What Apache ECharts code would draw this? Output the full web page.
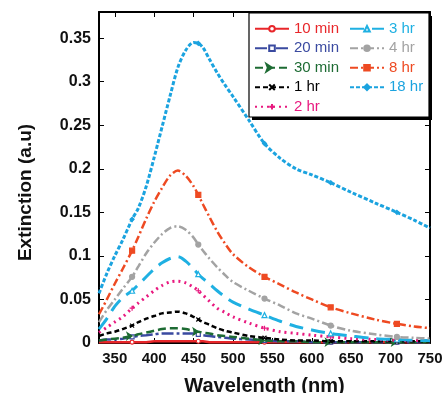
<!DOCTYPE html>
<html><head><meta charset="utf-8">
<script src="https://cdn.jsdelivr.net/npm/echarts@6/dist/echarts.min.js"></script>
<style>html,body{margin:0;padding:0;background:#fff}#c{width:447px;height:393px}</style>
</head><body><div id="c"></div>
<script>
const wavelengths = [330, 340, 350, 360, 372, 380, 390, 400, 410, 420, 430, 440, 450, 456, 462, 470, 480, 490, 500, 520, 540, 560, 580, 600, 624, 650, 680, 708, 730, 750];
const markerWavelengths = [372, 456, 540, 624, 708];
const xTicks = [350, 400, 450, 500, 550, 600, 650, 700, 750];
const yTicks = [0, 0.05, 0.1, 0.15, 0.2, 0.25, 0.3, 0.35];

const t10min = [0.001,0.001,0.001,0.001,0.001,0.001,0.001,0.002,0.002,0.002,0.002,0.002,0.002,0.002,0.002,0.001,0.001,0.001,0.001,0.001,0.001,0.001,0.001,0.001,0.001,0.001,0.001,0.001,0.001,0.001];
const t20min = [0.003,0.004,0.004,0.005,0.007,0.008,0.009,0.010,0.011,0.011,0.011,0.011,0.011,0.010,0.009,0.008,0.007,0.006,0.005,0.004,0.003,0.002,0.002,0.001,0.001,0.001,0.001,0.001,0.001,0.001];
const t30min = [0.003,0.004,0.005,0.006,0.008,0.010,0.012,0.014,0.016,0.017,0.017,0.016,0.014,0.013,0.012,0.011,0.009,0.008,0.007,0.005,0.003,0.002,0.002,0.001,0.001,0.001,0.001,0.001,0.001,0.001];
const t1hr = [0.008,0.011,0.013,0.016,0.020,0.024,0.028,0.031,0.034,0.035,0.036,0.034,0.030,0.027,0.024,0.021,0.017,0.014,0.012,0.008,0.006,0.004,0.003,0.003,0.002,0.002,0.002,0.002,0.002,0.002];
const t2hr = [0.012,0.018,0.024,0.030,0.040,0.046,0.053,0.060,0.066,0.070,0.071,0.069,0.064,0.060,0.055,0.048,0.040,0.035,0.030,0.023,0.017,0.013,0.011,0.009,0.007,0.005,0.004,0.003,0.003,0.003];
const t3hr = [0.016,0.028,0.042,0.052,0.060,0.067,0.076,0.085,0.092,0.097,0.099,0.094,0.085,0.079,0.074,0.068,0.060,0.053,0.047,0.039,0.032,0.025,0.019,0.015,0.011,0.008,0.005,0.004,0.003,0.003];
const t4hr = [0.024,0.038,0.050,0.062,0.076,0.088,0.103,0.115,0.125,0.132,0.134,0.130,0.121,0.113,0.106,0.097,0.087,0.078,0.070,0.060,0.051,0.043,0.034,0.028,0.020,0.014,0.010,0.007,0.006,0.005];
const t8hr = [0.033,0.050,0.068,0.085,0.106,0.122,0.143,0.162,0.178,0.192,0.198,0.192,0.180,0.170,0.159,0.145,0.128,0.114,0.102,0.087,0.076,0.067,0.058,0.050,0.041,0.034,0.027,0.022,0.019,0.017];
const t18hr = [0.057,0.080,0.100,0.118,0.142,0.155,0.180,0.213,0.248,0.283,0.316,0.336,0.345,0.344,0.339,0.326,0.310,0.296,0.283,0.256,0.229,0.212,0.200,0.193,0.184,0.173,0.161,0.150,0.141,0.132];

const seriesNames = ['10 min','20 min','30 min','1 hr','2 hr','3 hr','4 hr','8 hr','18 hr'];
const seriesValues = [t10min,t20min,t30min,t1hr,t2hr,t3hr,t4hr,t8hr,t18hr];

const styles = {
  '10 min': {color:'#e8262a', type:'solid', width:2.5, symbol:'circle', size:4, fill:'#fff'},
  '20 min': {color:'#3a4aa0', type:[12,3,3,3], width:2.5, symbol:'rect', size:4, fill:'#fff'},
  '30 min': {color:'#1d6b33', type:[8,4], width:2.5, symbol:'arrow', size:5, fill:null, rotate:-90},
  '1 hr': {color:'#000000', type:[5,3], width:2.5, symbol:'path://M0,0L10,10M10,0L0,10', size:4, fill:null},
  '2 hr': {color:'#e8197f', type:[2,4], width:3, symbol:'path://M5,0L5,10M0,5L10,5', size:5, fill:null},
  '3 hr': {color:'#1fb0e2', type:[14,8], width:3, symbol:'triangle', size:5, fill:'#fff'},
  '4 hr': {color:'#a3a3a3', type:[8,3,2,3], width:2.5, symbol:'circle', size:5, fill:null},
  '8 hr': {color:'#ee4a22', type:[8,3,2,3], width:2.5, symbol:'rect', size:5, fill:null},
  '18 hr': {color:'#1ba3df', type:[4,2], width:3, symbol:'diamond', size:4, fill:null}
};

const FONT = 'Liberation Sans';

const series = seriesNames.map((name, si) => {
  const st = styles[name];
  return {
    name: name,
    type: 'line',
    smooth: 0.3,
    showSymbol: true,
    symbol: st.symbol,
    symbolSize: st.size,
    symbolRotate: st.rotate || 0,
    lineStyle: {color: st.color, width: st.width, type: st.type},
    itemStyle: {color: st.fill || st.color, borderColor: st.color, borderWidth: 1.2},
    emphasis: {disabled: true},
    z: 2 + si * 0.01,
    data: wavelengths.map((w, i) => {
      const item = {value: [w, seriesValues[si][i]]};
      if (markerWavelengths.indexOf(w) < 0) item.symbol = 'none';
      return item;
    })
  };
});

const legendText = n => ({name: n, textStyle: {color: styles[n].color}});

const chart = echarts.init(document.getElementById('c'), null, {renderer: 'canvas'});
chart.setOption({
  animation: false,
  backgroundColor: '#fff',
  textStyle: {fontFamily: FONT},
  grid: {left: 99, right: 17, top: 12, bottom: 50, containLabel: false, outerBoundsMode: 'none'},
  xAxis: [{
    type: 'value', min: 330, max: 750, position: 'bottom',
    name: 'Wavelength (nm)', nameLocation: 'middle', nameGap: 33,
    nameTextStyle: {fontFamily: FONT, fontWeight: 'bold', fontSize: 20, color: '#111'},
    axisLine: {show: true, onZero: false, lineStyle: {color: '#000', width: 2}},
    axisTick: {show: true, inside: true, length: 5, customValues: xTicks, lineStyle: {color: '#000', width: 1}},
    axisLabel: {show: true, customValues: xTicks, margin: 8, fontFamily: FONT, fontWeight: 'bold', fontSize: 15, color: '#111'},
    splitLine: {show: false}
  }, {
    type: 'value', min: 330, max: 750, position: 'top',
    axisLine: {show: true, onZero: false, lineStyle: {color: '#000', width: 2}},
    axisTick: {show: true, inside: true, length: 5, customValues: xTicks, lineStyle: {color: '#000', width: 1}},
    axisLabel: {show: false},
    splitLine: {show: false}
  }],
  yAxis: [{
    type: 'value', min: 0, max: 0.38, position: 'left',
    name: 'Extinction (a.u)', nameLocation: 'middle', nameGap: 64, nameRotate: 90,
    nameTextStyle: {fontFamily: FONT, fontWeight: 'bold', fontSize: 19, color: '#111', padding: [0, 30, 0, 0]},
    axisLine: {show: true, onZero: false, lineStyle: {color: '#000', width: 2}},
    axisTick: {show: true, inside: true, length: 5, customValues: yTicks, lineStyle: {color: '#000', width: 1}},
    axisLabel: {show: true, customValues: yTicks, margin: 8, fontFamily: FONT, fontWeight: 'bold', fontSize: 16, color: '#111'},
    splitLine: {show: false}
  }, {
    type: 'value', min: 0, max: 0.38, position: 'right',
    axisLine: {show: true, onZero: false, lineStyle: {color: '#000', width: 2}},
    axisTick: {show: true, inside: true, length: 5, customValues: yTicks, lineStyle: {color: '#000', width: 1}},
    axisLabel: {show: false},
    splitLine: {show: false}
  }],
  graphic: [
    {type: 'rect', z: 3, shape: {x: 252, y: 16, width: 180, height: 104}, style: {fill: '#000'}},
    {type: 'rect', z: 3, shape: {x: 249, y: 13, width: 180, height: 104}, style: {fill: '#fff', stroke: '#000', lineWidth: 1.2}}
  ],
  legend: [{
    z: 5, left: 254, top: 19, orient: 'vertical', padding: 0, itemGap: 0,
    itemWidth: 34, itemHeight: 7, selectedMode: false,
    textStyle: {fontFamily: FONT, fontSize: 15, lineHeight: 19.5},
    data: ['10 min','20 min','30 min','1 hr','2 hr'].map(legendText)
  }, {
    z: 5, left: 349, top: 19, orient: 'vertical', padding: 0, itemGap: 0,
    itemWidth: 34, itemHeight: 7, selectedMode: false,
    textStyle: {fontFamily: FONT, fontSize: 15, lineHeight: 19.5},
    data: ['3 hr','4 hr','8 hr','18 hr'].map(legendText)
  }],
  series: series
});
</script></body></html>
